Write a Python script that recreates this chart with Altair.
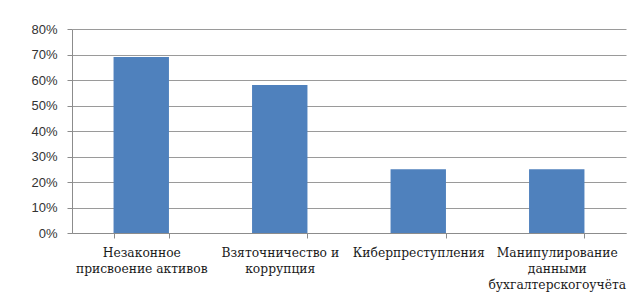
import altair as alt
import pandas as pd

categories = [
    "Незаконное\nприсвоение активов",
    "Взяточничество и\nкоррупция",
    "Киберпреступления",
    "Манипулирование\nданными\nбухгалтерскогоучёта",
]
values = [0.69, 0.58, 0.25, 0.25]
y_ticks = [0, 0.1, 0.2, 0.3, 0.4, 0.5, 0.6, 0.7, 0.8]

df = pd.DataFrame({"cat": categories, "val": values})

chart = (
    alt.Chart(df)
    .mark_bar(color="#4F81BD")
    .encode(
        x=alt.X(
            "cat:N",
            sort=categories,
            title=None,
            scale=alt.Scale(paddingInner=0.6, paddingOuter=0.3),
            axis=alt.Axis(
                labelAngle=0,
                labelFont="DejaVu Serif",
                labelFontSize=12.3,
                labelColor="#1a1a1a",
                labelLineHeight=16,
                labelExpr="split(datum.label, '\\n')",
                labelPadding=8,
                labelLimit=300,
                labelOverlap=False,
                tickBand="extent",
                tickSize=5,
                tickColor="#8c8c8c",
                domainColor="#8c8c8c",
                grid=False,
            ),
        ),
        y=alt.Y(
            "val:Q",
            title=None,
            scale=alt.Scale(domain=[0, 0.8], nice=False),
            axis=alt.Axis(
                values=y_ticks,
                format=".0%",
                labelFont="Liberation Sans",
                labelFontSize=13,
                labelColor="#333333",
                labelPadding=10,
                tickSize=5,
                tickColor="#8c8c8c",
                domainColor="#8c8c8c",
                gridColor="#9a9a9a",
                grid=True,
            ),
        ),
    )
    .properties(
        width=554,
        height=204,
        autosize=alt.AutoSizeParams(type="none"),
        padding={"left": 64, "top": 21, "right": 7, "bottom": 59},
    )
    .configure_view(stroke=None)
)

chart.save("out.html", embed_options={"renderer": "svg", "actions": False})
